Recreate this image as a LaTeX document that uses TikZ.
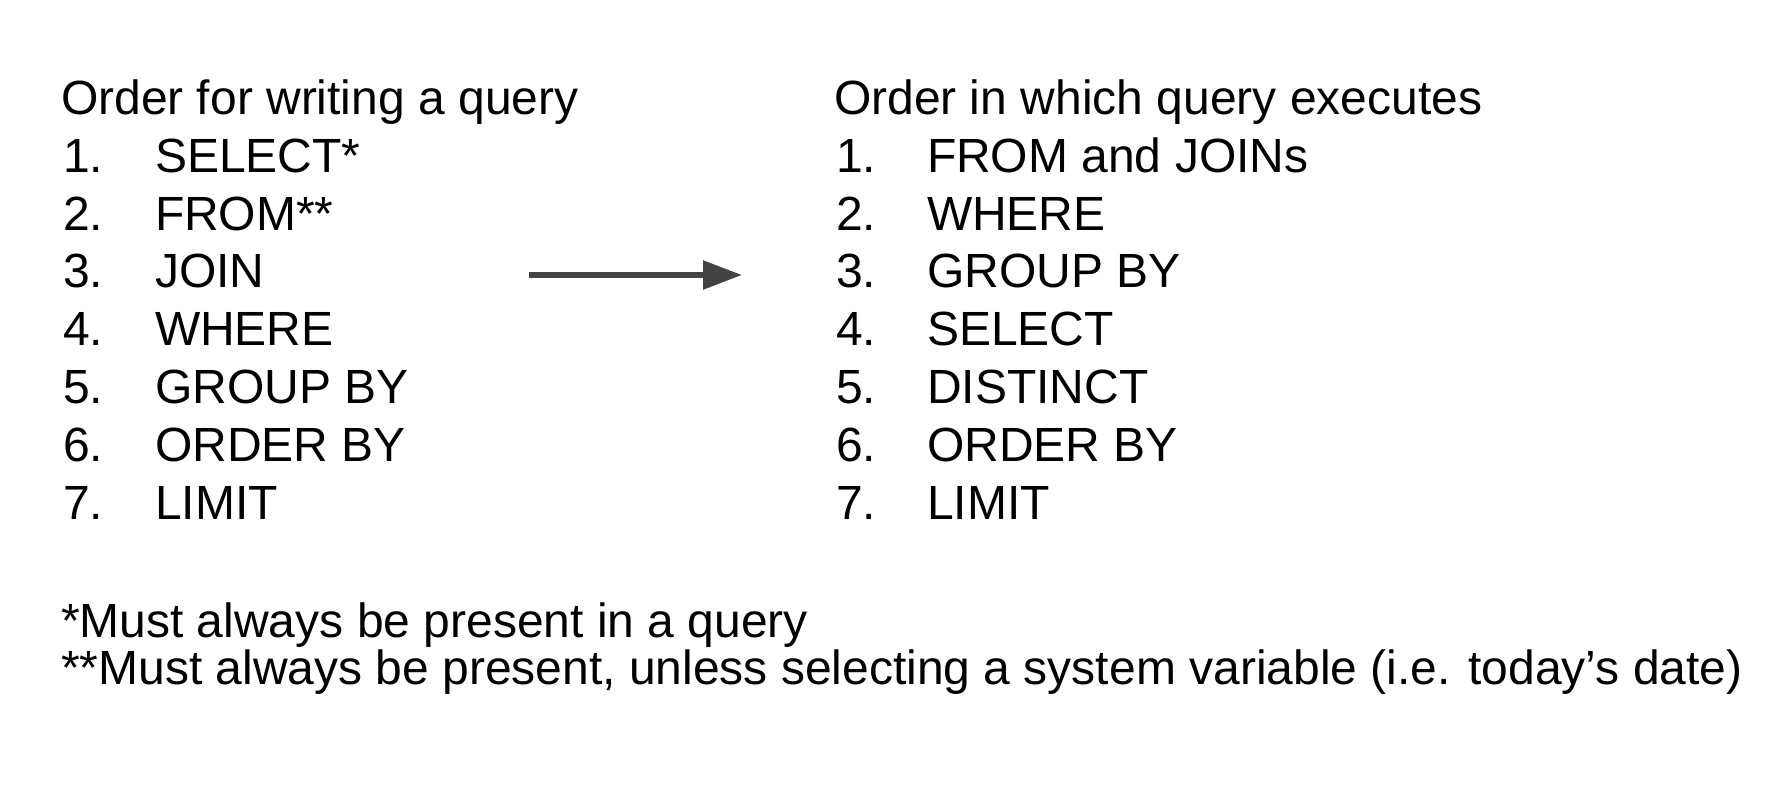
\documentclass[tikz,border=0pt]{standalone}
\usepackage{fontspec}
\setmainfont{Liberation Sans}
\usetikzlibrary{arrows.meta}
\definecolor{arrowgray}{HTML}{434343}
\begin{document}
\begin{tikzpicture}[x=1pt,y=-1pt,
  txt/.style={anchor=base west,inner sep=0pt,outer sep=0pt,text=black,
    font=\fontsize{48}{58}\selectfont},
  flow/.style={draw=arrowgray,line width=5.5pt,
    -{Triangle[length=39pt,width=28pt]}}]
\useasboundingbox (0,0) rectangle (1777,809);
\fill[white] (0,0) rectangle (1777,809);

% left column: order for writing
\node[txt] (lt) at (61,114.5) {Order for writing a query};
\foreach \i/\t [count=\k] in {1/SELECT*,2/FROM**,3/JOIN,4/WHERE,5/GROUP BY,6/ORDER BY,7/LIMIT}{
  \node[txt] (ln\k) at (63,{114.5+57.8*\k}) {\i.};
  \node[txt] (li\k) at (155,{114.5+57.8*\k}) {\t};
}

% right column: order of execution
\node[txt] (rt) at (834,114.5) {Order in which query executes};
\foreach \i/\t [count=\k] in {1/FROM and JOINs,2/WHERE,3/GROUP BY,4/SELECT,5/DISTINCT,6/ORDER BY,7/LIMIT}{
  \node[txt] (rn\k) at (836,{114.5+57.8*\k}) {\i.};
  \node[txt] (ri\k) at (927,{114.5+57.8*\k}) {\t};
}

% arrow between the columns
\coordinate (as) at (529,275);
\coordinate (ae) at (742,275);
\draw[flow] (as) -- (ae);

% footnotes
\node[txt] (f1) at (61,637.5) {*Must always be present in a query};
\node[txt] (f2) at (61,684.6) {**Must always be present, unless selecting a system variable (i.e. today’s date)};
\end{tikzpicture}
\end{document}
